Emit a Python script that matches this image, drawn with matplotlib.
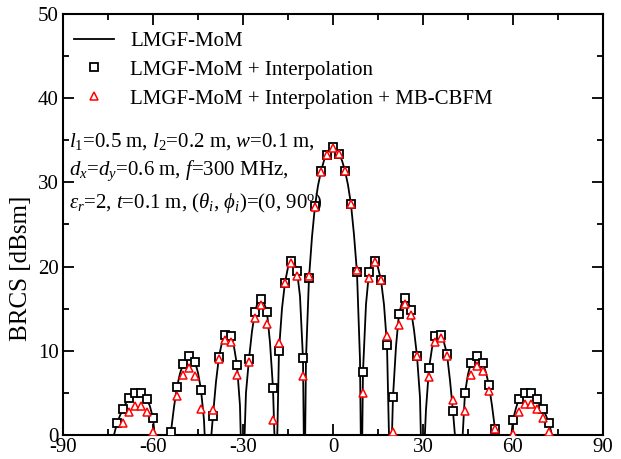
import matplotlib
matplotlib.use("Agg")
import matplotlib.pyplot as plt
from matplotlib.ticker import MultipleLocator

plt.rcParams['font.family'] = ['Liberation Serif', 'DejaVu Serif']
plt.rcParams['mathtext.fontset'] = 'custom'
plt.rcParams['mathtext.rm'] = 'Liberation Serif'
plt.rcParams['mathtext.it'] = 'Liberation Serif:italic'
plt.rcParams['mathtext.fallback'] = 'stix'
plt.rcParams['axes.unicode_minus'] = False

# LMGF-MoM reference curve (values below 0 are the nulls, clipped by the axis)
line_theta = [-74, -73, -72, -71, -70, -69, -68, -67, -66, -65, -64, -63, -62, -61, -60, -59, -57, -55,
              -54, -53, -52, -51, -50, -49, -48, -47, -46, -45, -44, -43, -42, -41,
              -40, -39, -38, -37, -36, -35, -34, -33, -32, -31, -30.2,
              -29, -28, -27, -26, -25, -24, -23, -22, -21, -20, -19, -18.5,
              -18, -17, -16, -15, -14, -13, -12, -11, -10, -9.5, -9,
              -8, -7, -6, -5, -4, -3, -2, -1, 0, 1, 2, 3, 4, 5, 6, 7, 8, 9, 9.5,
              10, 11, 12, 13, 14, 15, 16, 17, 18, 18.6, 19.2,
              20, 21, 22, 23, 24, 25, 26, 27, 28, 29, 29.8, 30.5,
              31, 32, 33, 34, 35, 36, 37, 38, 39, 40, 41, 42, 43,
              44, 45, 46, 47, 48, 49, 50, 51, 52, 53, 54, 55, 57, 59,
              60, 61, 62, 63, 64, 65, 66, 67, 68, 69, 70, 71, 72, 73, 74]
line_brcs = [-6, 0.0, 1.4, 2.3, 3.1, 3.8, 4.4, 4.8, 5.0, 5.1, 5.0, 4.7, 4.3, 3.4, 2.0, -1.5, -8, -2,
             0.4, 3.3, 5.7, 7.3, 8.4, 9.1, 9.4, 9.3, 8.7, 7.4, 5.4, 1.8, -6, -2,
             2.3, 6.3, 9.3, 11.0, 11.9, 12.1, 11.8, 10.5, 8.3, 3.5, -8,
             5.0, 9.0, 12.3, 14.6, 15.9, 16.2, 15.7, 14.6, 11.0, 5.6, -6, 1,
             10.0, 15.0, 18.1, 19.9, 20.7, 20.6, 19.5, 16.5, 9.1, -8, 9,
             18.6, 23.5, 27.2, 29.6, 31.3, 32.6, 33.3, 34.0, 34.2, 34.0, 33.4, 32.6, 31.4, 29.7, 27.4, 23.8, 19.3, 9, -8,
             7.5, 15.5, 19.3, 20.5, 20.7, 19.9, 18.4, 15.5, 10.7, 1, -6,
             4.5, 10.5, 14.4, 15.7, 16.3, 15.9, 14.8, 12.5, 9.4, 4.5, -8, -1,
             3.0, 7.9, 10.3, 11.7, 12.1, 11.9, 11.0, 9.6, 6.5, 2.8, -1.5, -6, -1.5,
             5.0, 7.2, 8.6, 9.2, 9.4, 9.1, 8.5, 7.4, 5.9, 3.5, 0.7, -2, -8, -1.5,
             1.8, 3.2, 4.3, 4.8, 5.0, 5.1, 5.0, 4.7, 4.3, 3.8, 3.1, 2.3, 1.4, 0.0, -6]

# LMGF-MoM + Interpolation (squares)
sq_theta = [-72, -70, -68, -66, -64, -62, -60, -54, -52, -50, -48, -46, -44,
            -40, -38, -36, -34, -32, -28, -26, -24, -22, -20, -18, -16, -14, -12, -10,
            -8, -6, -4, -2, 0, 2, 4, 6, 8, 10, 12, 14, 16, 18, 20, 22, 24, 26, 28,
            32, 34, 36, 38, 40, 44, 46, 48, 50, 52, 54, 60, 62, 64, 66, 68, 70, 72]
sq_brcs = [1.4, 3.1, 4.4, 5.0, 5.0, 4.3, 2.0, 0.4, 5.7, 8.4, 9.4, 8.7, 5.4,
           2.3, 9.3, 11.9, 11.8, 8.3, 9.0, 14.6, 16.2, 14.6, 5.6, 10.0, 18.1, 20.7, 19.5, 9.1,
           18.6, 27.2, 31.3, 33.3, 34.2, 33.4, 31.4, 27.4, 19.3, 7.5, 19.3, 20.7, 18.4, 10.7, 4.5, 14.4, 16.3, 14.8, 9.4,
           7.9, 11.7, 11.9, 9.6, 2.8, 5.0, 8.6, 9.4, 8.5, 5.9, 0.7, 1.8, 4.3, 5.0, 5.0, 4.3, 3.1, 1.4]

# LMGF-MoM + Interpolation + MB-CBFM (triangles)
tri_theta = [-70, -68, -66, -64, -62, -60, -52, -50, -48, -46, -44,
             -40, -38, -36, -34, -32, -28, -26, -24, -22, -20, -18, -16, -14, -12, -10,
             -8, -6, -4, -2, 0, 2, 4, 6, 8, 10, 12, 14, 16, 18, 20, 22, 24, 26, 28,
             32, 34, 36, 38, 40, 44, 46, 48, 50, 52, 54, 60, 62, 64, 66, 68, 70, 72]
tri_brcs = [1.4, 2.7, 3.4, 3.5, 2.7, 0.4, 4.6, 7.1, 7.9, 7.0, 3.1,
            3.0, 9.0, 11.3, 11.0, 7.1, 8.7, 13.9, 15.4, 13.2, 1.8, 10.9, 18.1, 20.4, 18.9, 7.0,
            18.9, 27.1, 31.2, 33.3, 34.1, 33.4, 31.3, 27.4, 19.6, 5.0, 18.7, 20.5, 18.4, 11.7, 0.4, 13.1, 15.5, 14.3, 9.4,
            6.9, 11.0, 11.5, 9.4, 4.1, 2.8, 7.1, 8.2, 7.6, 5.2, 0.7, 0.1, 2.7, 3.7, 3.7, 3.1, 2.0, 0.4]

fig = plt.figure(figsize=(6.21, 4.59), dpi=100)
ax = fig.add_axes([0.1014, 0.0523, 0.8696, 0.9172])

ax.plot(line_theta, line_brcs, color='black', lw=1.3, label='LMGF-MoM', zorder=2)
ax.plot(sq_theta, sq_brcs, ls='none', marker='s', ms=6, mfc='white', mec='black', mew=1.3,
        label='LMGF-MoM + Interpolation', zorder=3)
ax.plot(tri_theta, tri_brcs, ls='none', marker='^', ms=6, mfc='white', mec='red', mew=1.1,
        label='LMGF-MoM + Interpolation + MB-CBFM', zorder=4)

ax.set_xlim(-90, 90)
ax.set_ylim(0, 50)
ax.xaxis.set_major_locator(MultipleLocator(30))
ax.xaxis.set_minor_locator(MultipleLocator(15))
ax.yaxis.set_major_locator(MultipleLocator(10))
ax.yaxis.set_minor_locator(MultipleLocator(5))
ax.tick_params(which='both', direction='in', top=True, right=True, labelsize=15, width=1.3)
ax.tick_params(which='major', length=8)
ax.tick_params(which='minor', length=4)
ax.tick_params(axis='x', pad=2)
ax.tick_params(axis='y', pad=3)
for s in ax.spines.values():
    s.set_linewidth(1.5)
ax.set_ylabel('BRCS [dBsm]', fontsize=18)
ax.yaxis.set_label_coords(-0.057, 0.397)

ax.legend(loc='upper left', bbox_to_anchor=(0.013, 0.969), frameon=False, fontsize=15,
          handlelength=1.9, handletextpad=0.8, labelspacing=0.45,
          borderaxespad=0, borderpad=0.2)

ax.text(0.012, 0.722,
        '$l_1$=0.5 m, $l_2$=0.2 m, $w$=0.1 m,\n'
        '$d_x$=$d_y$=0.6 m, $f$=300 MHz,\n'
        r'$\varepsilon_r$=2, $t$=0.1 m, ($\theta_i$, $\phi_i$)=(0, 90$^{\rm o}$)',
        transform=ax.transAxes, fontsize=15, va='top', ha='left', linespacing=1.42)

fig.savefig('out.png', dpi=100)
